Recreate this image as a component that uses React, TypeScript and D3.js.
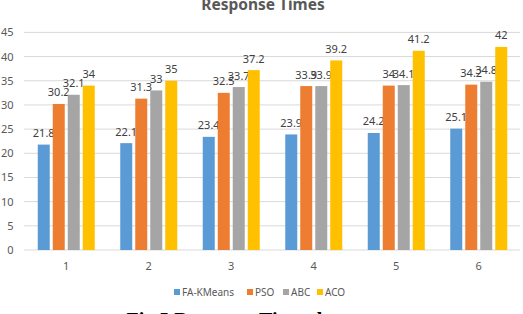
import * as d3 from 'd3';
import React, { useRef, useEffect } from 'react';

const categories = ['1', '2', '3', '4', '5', '6'];
const seriesNames = ['FA-KMeans', 'PSO', 'ABC', 'ACO'];
const faKMeans = [21.8, 22.1, 23.4, 23.9, 24.2, 25.1];
const pso = [30.2, 31.3, 32.5, 33.9, 34, 34.2];
const abc = [32.1, 33, 33.7, 33.9, 34.1, 34.8];
const aco = [34, 35, 37.2, 39.2, 41.2, 42];
const yTicks = [0, 5, 10, 15, 20, 25, 30, 35, 40, 45];
const colors = ['#5B9BD5', '#ED7D31', '#A5A5A5', '#FFC000'];

function App(): any {
  const ref = useRef(null);

  useEffect(() => {
    const width = 523;
    const height = 314;
    const margin = { top: 32.4, right: 3, bottom: 64, left: 25 };
    const font = "'Noto Sans', 'Open Sans', sans-serif";
    const series = [faKMeans, pso, abc, aco];

    const svg = d3.select(ref.current)
      .attr("width", width)
      .attr("height", height);
    svg.selectAll("*").remove();

    const x = d3.scaleBand()
      .domain(categories)
      .range([margin.left, width - margin.right]);

    const inner = d3.scaleBand()
      .domain(seriesNames)
      .range([0, 57])
      .paddingInner(0.2);

    const y = d3.scaleLinear()
      .domain([0, 45])
      .range([250, margin.top]);

    // gridlines
    svg.append("g")
      .selectAll("line")
      .data(yTicks)
      .join("line")
      .attr("x1", margin.left - 1)
      .attr("x2", width - margin.right)
      .attr("y1", (d: number) => y(d))
      .attr("y2", (d: number) => y(d))
      .attr("stroke", "#D9D9D9")
      .attr("stroke-width", 1);

    // y labels
    svg.append("g")
      .selectAll("text")
      .data(yTicks)
      .join("text")
      .attr("x", 13.5)
      .attr("y", (d: number) => y(d) + 4)
      .attr("text-anchor", "end")
      .attr("font-family", font)
      .attr("font-size", 11)
      .attr("fill", "#595959")
      .text((d: number) => d);

    // x labels
    svg.append("g")
      .selectAll("text")
      .data(categories)
      .join("text")
      .attr("x", (d: string) => (x(d) as number) + x.bandwidth() / 2)
      .attr("y", 270)
      .attr("text-anchor", "middle")
      .attr("font-family", font)
      .attr("font-size", 11)
      .attr("fill", "#595959")
      .text((d: string) => d);

    // bars + labels
    series.forEach((vals, si) => {
      const name = seriesNames[si];
      const off = (xx: string) =>
        (x(xx) as number) + x.bandwidth() / 2 - 28.5 + (inner(name) as number);
      const g = svg.append("g");
      g.selectAll("rect")
        .data(vals)
        .join("rect")
        .attr("x", (_: number, i: number) => off(categories[i]))
        .attr("y", (d: number) => y(d))
        .attr("width", inner.bandwidth())
        .attr("height", (d: number) => y(0) - y(d))
        .attr("fill", colors[si]);
      g.selectAll("text")
        .data(vals)
        .join("text")
        .attr("x", (_: number, i: number) => off(categories[i]) + inner.bandwidth() / 2)
        .attr("y", (d: number) => y(d) - 7.5)
        .attr("text-anchor", "middle")
        .attr("font-family", font)
        .attr("font-size", 11)
        .attr("fill", "#404040")
        .text((d: number) => d);
    });

    // title
    svg.append("text")
      .attr("x", 263)
      .attr("y", 10)
      .attr("text-anchor", "middle")
      .attr("font-family", font)
      .attr("font-size", 15.5)
      .attr("font-weight", "bold")
      .attr("fill", "#595959")
      .text("Response Times");

    // legend
    const legendX = [174, 247, 283, 317];
    const lg = svg.append("g");
    seriesNames.forEach((name, i) => {
      lg.append("rect")
        .attr("x", legendX[i])
        .attr("y", 289)
        .attr("width", 6)
        .attr("height", 6)
        .attr("fill", colors[i]);
      lg.append("text")
        .attr("x", legendX[i] + 8)
        .attr("y", 296)
        .attr("font-family", font)
        .attr("font-size", 10)
        .attr("fill", "#595959")
        .text(name);
    });

    // caption (cut off at bottom)
    svg.append("text")
      .attr("x", 240)
      .attr("y", 327)
      .attr("text-anchor", "middle")
      .attr("font-family", "'Liberation Serif', serif")
      .attr("font-size", 20)
      .attr("font-weight", "bold")
      .attr("fill", "#000")
      .text("Fig.5 Response Time chart");
  }, []);

  return (
    <svg
      ref={ref}
      style={{ position: "absolute", left: 0, top: 0, background: "#fff" }}
    />
  );
}

export default App;
